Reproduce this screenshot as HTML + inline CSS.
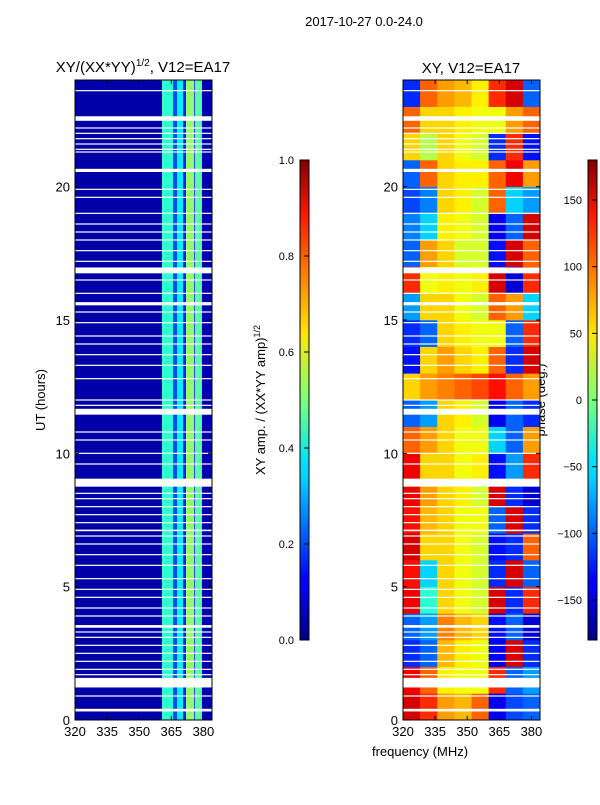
<!DOCTYPE html>
<html><head><meta charset="utf-8"><style>
body{margin:0;background:#fff;}
svg text{font-family:"Liberation Sans","DejaVu Sans",sans-serif;fill:#000;}
</style></head><body>
<svg id="fig" width="600" height="800" xmlns="http://www.w3.org/2000/svg">
<text x="364" y="26" font-size="13" text-anchor="middle">2017-10-27 0.0-24.0</text>
<text x="143" y="72" font-size="15" text-anchor="middle">XY/(XX*YY)<tspan font-size="10" dy="-6">1/2</tspan><tspan dy="6">, V12=EA17</tspan></text>
<text x="471" y="73" font-size="15" text-anchor="middle">XY, V12=EA17</text>
<text x="0" y="0" font-size="13" text-anchor="middle" transform="translate(45,400) rotate(-90)">UT (hours)</text>
<text x="420" y="756" font-size="13" text-anchor="middle">frequency (MHz)</text>
<text x="0" y="0" font-size="13" text-anchor="middle" transform="translate(265,400) rotate(-90)">XY amp. / (XX*YY amp)<tspan font-size="9" dy="-5">1/2</tspan></text>
<text x="0" y="0" font-size="13" text-anchor="middle" transform="translate(545,400) rotate(-90)">phase (deg.)</text>
<defs>
<linearGradient id="jet" x1="0" y1="1" x2="0" y2="0">
<stop offset="0" stop-color="#00007f"/><stop offset="0.11" stop-color="#0000ff"/><stop offset="0.125" stop-color="#0000ff"/><stop offset="0.34" stop-color="#00d4ff"/><stop offset="0.375" stop-color="#00e5f7"/><stop offset="0.5" stop-color="#7dff7a"/><stop offset="0.64" stop-color="#ffe600"/><stop offset="0.66" stop-color="#ffd400"/><stop offset="0.89" stop-color="#ff1400"/><stop offset="1" stop-color="#7f0000"/>
</linearGradient>
</defs>
<g id="layer"></g>
</svg>
<script>
// ---- data ----
const freqEdges = [320,360.7,365.8,367.7,370.5,371.9,375.6,376,379.3,384];
const ampValues = [0.04,0.42,0.2,0.36,0.15,0.52,0.15,0.46,0.05];
const phaseFreqEdges = [320,328,336,344,352,360,368,376,384];
const phaseRows = [ // hour 0 .. 23
[150,120,80,70,100,-140,-110,-100],
[140,100,50,40,40,120,-100,-80],
[-120,-100,70,50,40,-140,150,-120],
[-100,-80,90,70,60,-130,-100,-150],
[140,-30,60,40,30,150,-120,120],
[130,-60,60,40,30,-120,150,-100],
[150,60,60,40,30,-130,-120,100],
[130,70,60,40,40,-100,150,-120],
[140,80,60,50,30,150,-120,-150],
[140,60,60,40,50,-130,-80,120],
[100,80,60,40,40,-60,-100,80],
[-100,-80,60,50,30,-140,-100,-120],
[60,80,90,100,110,130,100,80],
[-130,60,80,60,50,100,-120,150],
[-120,-100,60,50,40,40,-100,120],
[-80,60,60,40,30,100,80,-60],
[120,40,50,40,50,150,-150,120],
[-100,80,60,30,30,-130,150,100],
[-90,-60,50,40,30,-140,-100,150],
[-110,-90,60,50,30,100,-60,-80],
[-100,100,60,50,50,100,140,80],
[60,20,60,40,30,-120,120,-130],
[100,60,60,50,40,40,80,100],
[-120,100,80,70,50,120,150,-100]
];
const gapStarts = [22.47,20.55,16.75,15.55,11.45,8.75,7.08,3.46,1.22,0.32];
const gapLengths = [0.17,0.12,0.22,0.12,0.22,0.3,0.06,0.1,0.36,0.1];
const thinGaps = [23.6,22.2,22.0,21.8,21.6,21.4,21.3,19.9,19.6,19.0,18.6,18.3,18.0,17.6,17.2,16.5,16.0,15.3,14.9,14.4,14.1,13.7,13.3,12.8,12.0,11.8,10.8,10.5,10.0,9.6,8.5,8.3,8.0,7.7,7.4,6.9,6.6,6.2,5.8,5.3,4.9,4.6,4.2,3.9,3.3,3.1,2.8,2.5,2.2,1.9,1.7,0.9];
const freqTicks = [320,335,350,365,380];
const hourTicks = [0,5,10,15,20];
const ampTicks = [0.0,0.2,0.4,0.6,0.8,1.0];
const phaseTicks = [-150,-100,-50,0,50,100,150];

// ---- axes ----
const NS='http://www.w3.org/2000/svg';
const layer=document.getElementById('layer');
const panels=[{x0:75,name:'amp'},{x0:403,name:'phase'}];
const PW=137, PT=80, PB=720;
function xs(f,x0){return x0+(f-320)/(384-320)*PW;}
function ys(h){return PB-h/24*(PB-PT);}
const cbTop=160, cbBot=640;
function ampY(v){return cbBot-v*(cbBot-cbTop);}
function phY(v){return cbBot-(v+180)/360*(cbBot-cbTop);}
function jet(v){
  v=Math.max(0,Math.min(1,v));
  function c(x){return Math.max(0,Math.min(1,x));}
  const r=c(1.5-Math.abs(4*v-3)), g=c(1.5-Math.abs(4*v-2)), b=c(1.5-Math.abs(4*v-1));
  return 'rgb('+Math.round(r*255)+','+Math.round(g*255)+','+Math.round(b*255)+')';
}
function mk(tag,attrs,parent){const e=document.createElementNS(NS,tag);for(const k in attrs)e.setAttribute(k,attrs[k]);(parent||layer).appendChild(e);return e;}

for(let i=0;i<ampValues.length;i++){
  const x1=xs(freqEdges[i],75), x2=xs(freqEdges[i+1],75);
  const r=mk('rect',{x:x1,y:PT,width:x2-x1,height:PB-PT,fill:jet(ampValues[i])});
  
  
}
for(let h=0;h<phaseRows.length;h++){
  for(let j=0;j<phaseRows[h].length;j++){
    const x1=xs(phaseFreqEdges[j],403), x2=xs(phaseFreqEdges[j+1],403);
    const r=mk('rect',{x:x1,y:ys(h+1),width:x2-x1+0.3,height:ys(h)-ys(h+1)+0.3,fill:jet((phaseRows[h][j]+180)/360)});
    
    
  }
}
panels.forEach(p=>{
  gapStarts.forEach((g,i)=>{
    const r=mk('rect',{x:p.x0,y:ys(g+gapLengths[i]),width:PW,height:ys(g)-ys(g+gapLengths[i]),fill:'#fff'});
    
    
  });
  thinGaps.forEach(g=>{
    const r=mk('rect',{x:p.x0,y:ys(g)-0.6,width:PW,height:1.2,fill:'#fff'});
    
    
  });
  const fr=mk('rect',{x:p.x0,y:PT,width:PW,height:PB-PT,fill:'none',stroke:'#000','stroke-width':1});
  
  
  freqTicks.forEach(f=>{
    const x=xs(f,p.x0);
    mk('line',{x1:x,y1:PB,x2:x,y2:PB-4,stroke:'#000'});
    mk('line',{x1:x,y1:PT,x2:x,y2:PT+4,stroke:'#000'});
    const t=mk('text',{x:x,y:PB+16,'font-size':13,'text-anchor':'middle'});
    t.textContent=f;
    
    
  });
  hourTicks.forEach(h=>{
    const y=ys(h);
    mk('line',{x1:p.x0,y1:y,x2:p.x0+4,y2:y,stroke:'#000'});
    mk('line',{x1:p.x0+PW,y1:y,x2:p.x0+PW-4,y2:y,stroke:'#000'});
    const t=mk('text',{x:p.x0-5,y:y+5,'font-size':13,'text-anchor':'end'});
    t.textContent=h;
    
    
  });
});
function colorbar(x,ticks,yf,name){
  const r=mk('rect',{x:x,y:cbTop,width:9,height:cbBot-cbTop,fill:'url(#jet)',stroke:'#000','stroke-width':1});
  
  
  ticks.forEach(v=>{
    const y=yf(v);
    mk('line',{x1:x+9,y1:y,x2:x+4,y2:y,stroke:'#000'});
    const t=mk('text',{x:x-6,y:y+4,'font-size':11,'text-anchor':'end'});
    t.textContent=(name==='amp-colorbar')?v.toFixed(1):(v<0?'\u2212'+(-v):v);
    
    
  });
}
colorbar(300,ampTicks,ampY,'amp-colorbar');
colorbar(588,phaseTicks,phY,'phase-colorbar');
</script>
</body></html>
